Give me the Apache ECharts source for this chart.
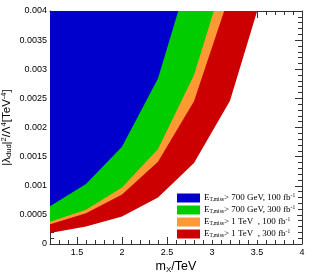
<!DOCTYPE html>
<html><head><meta charset="utf-8">
<script src="https://cdn.jsdelivr.net/npm/echarts@6/dist/echarts.min.js"></script>
<style>html,body{margin:0;padding:0;background:#fff}#c{width:315px;height:275px}</style>
</head><body><div id="c"></div>
<script>
// mass points (TeV)
const massPoints = [1.2, 1.6, 2.0, 2.4, 2.8, 3.2, 3.6];
// exclusion boundaries |lambda|^2/Lambda^4 [TeV^-4]
const blue700_100 = [0.00065, 0.00103, 0.00167, 0.00284, 0.0049];
const green700_300 = [0.00038, 0.00059, 0.00097, 0.00163, 0.0029, 0.0049];
const orange1000_100 = [0.00034, 0.00053, 0.00085, 0.00141, 0.00245, 0.0043];
const red1000_300 = [0.00019, 0.0003, 0.00047, 0.0008, 0.00139, 0.00246, 0.0045];
const cutLabels = ['700 GeV', '700 GeV', '1 TeV  ', '1 TeV  '];
const lumiLabels = ['100', '300', '100', '300'];
const seriesNames = ['s700_100', 's700_300', 's1000_100', 's1000_300'];
const xTickLabels = [1.5, 2, 2.5, 3, 3.5, 4];
const colors = ['#0000cc', '#00cc00', '#ff9933', '#cc0000'];

const pairs = (vals) => vals.map((v, i) => [massPoints[i], v]);
const dataSets = [blue700_100, green700_300, orange1000_100, red1000_300];

const frame = '#333';
const FONT = '"Liberation Sans", Arial, sans-serif';
const SERIF = '"Liberation Serif", "Times New Roman", serif';

const series = [];
for (let k = 3; k >= 0; k--) {
  series.push({
    name: seriesNames[k], type: 'line', data: pairs(dataSets[k]),
    color: colors[k], symbol: 'none', smooth: false, clip: true,
    lineStyle: { width: 0, opacity: 0 },
    areaStyle: { origin: 'end', color: colors[k], opacity: 1 },
    silent: true
  });
}

const baseX = { type: 'value', min: 1.2, max: 4, gridIndex: 0, splitLine: { show: false } };
const option = {
  animation: false,
  backgroundColor: '#fff',
  grid: { left: 50, right: 13, top: 11, bottom: 31, containLabel: false, outerBoundsMode: 'none' },
  xAxis: [
    Object.assign({}, baseX, {
      position: 'bottom', interval: 0.1,
      axisLine: { show: true, onZero: false, lineStyle: { color: frame, width: 1 } },
      axisTick: { show: true, inside: true, length: 7, customValues: xTickLabels, lineStyle: { color: frame } },
      axisLabel: { show: true, customValues: xTickLabels, margin: 4, fontSize: 9, fontFamily: FONT, color: '#000',
        formatter: v => String(v) },
      name: '{m|m}{s|X}{m|/TeV}', nameLocation: 'middle', nameGap: 16, nameMoveOverlap: false,
      nameTextStyle: { rich: {
        m: { fontSize: 12.5, fontFamily: FONT, color: '#000' },
        s: { fontSize: 8, fontFamily: FONT, color: '#000', verticalAlign: 'bottom', padding: [6, 0, 0, 0] } } }
    }),
    Object.assign({}, baseX, {
      position: 'bottom', interval: 0.1,
      axisLine: { show: false, onZero: false },
      axisTick: { show: true, inside: true, length: 4, lineStyle: { color: frame } },
      axisLabel: { show: false }
    }),
    Object.assign({}, baseX, {
      position: 'top', interval: 0.1,
      axisLine: { show: true, onZero: false, lineStyle: { color: frame, width: 1 } },
      axisTick: { show: true, inside: true, length: 4, lineStyle: { color: frame } },
      axisLabel: { show: false }
    }),
    Object.assign({}, baseX, {
      position: 'top', interval: 0.1,
      axisLine: { show: false, onZero: false },
      axisTick: { show: true, inside: true, length: 7, customValues: xTickLabels, lineStyle: { color: frame } },
      axisLabel: { show: false }
    })
  ],
  yAxis: [
    {
      type: 'value', min: 0, max: 0.004, interval: 0.0005, position: 'left',
      splitLine: { show: false },
      axisLine: { show: true, onZero: false, lineStyle: { color: frame, width: 1 } },
      axisTick: { show: true, inside: true, length: 7, lineStyle: { color: frame } },
      minorTick: { show: true, splitNumber: 5, length: 4, lineStyle: { color: frame } },
      axisLabel: { margin: 3, fontSize: 9, fontFamily: FONT, color: '#000', formatter: v => String(+v.toFixed(4)) },
      name: '{m|\u007c\u03bb}{s|dud}{m|\u007c}{p|2}{m|/\u039b}{p|4}{m|[TeV}{p|-4}{m|]}',
      nameLocation: 'middle', nameRotate: 90, nameGap: 37, nameMoveOverlap: false,
      nameTextStyle: { rich: {
        m: { fontSize: 11.5, fontFamily: FONT, color: '#000' },
        s: { fontSize: 7.5, fontFamily: FONT, color: '#000', verticalAlign: 'bottom', padding: [5, 0, 0, 0] },
        p: { fontSize: 7.5, fontFamily: FONT, color: '#000', verticalAlign: 'top', padding: [0, 0, 5, 0] } } }
    },
    {
      type: 'value', min: 0, max: 0.004, interval: 0.0005, position: 'right',
      splitLine: { show: false },
      axisLine: { show: true, onZero: false, lineStyle: { color: frame, width: 1 } },
      axisTick: { show: true, inside: true, length: 7, lineStyle: { color: frame } },
      minorTick: { show: true, splitNumber: 5, length: 4, lineStyle: { color: frame } },
      axisLabel: { show: false }
    }
  ],
  legend: {
    orient: 'vertical', left: 175, top: 192, icon: 'rect', itemWidth: 23, itemHeight: 9, itemGap: 2,
    backgroundColor: '#fff', padding: [1, 2, 1, 2],
    data: seriesNames,
    formatter: (name) => {
      const i = seriesNames.indexOf(name);
      return '{t|E}{s|T,miss}{t|> ' + cutLabels[i] + ', ' + lumiLabels[i] + ' fb}{p|-1}';
    },
    textStyle: { fontFamily: SERIF, fontSize: 9, color: '#000', lineHeight: 10, padding: [0, 0, 0, -1], rich: {
      t: { fontFamily: SERIF, fontSize: 9, color: '#000', lineHeight: 10 },
      s: { fontFamily: SERIF, fontSize: 5.5, color: '#000', verticalAlign: 'bottom', lineHeight: 10, padding: [3, 0, 0, 0] },
      p: { fontFamily: SERIF, fontSize: 5.5, color: '#000', verticalAlign: 'top', lineHeight: 10, padding: [0, 0, 3, 0] } } }
  },
  series: series
};
const chart = echarts.init(document.getElementById('c'), null, { renderer: 'canvas' });
chart.setOption(option);
</script>
</body></html>
